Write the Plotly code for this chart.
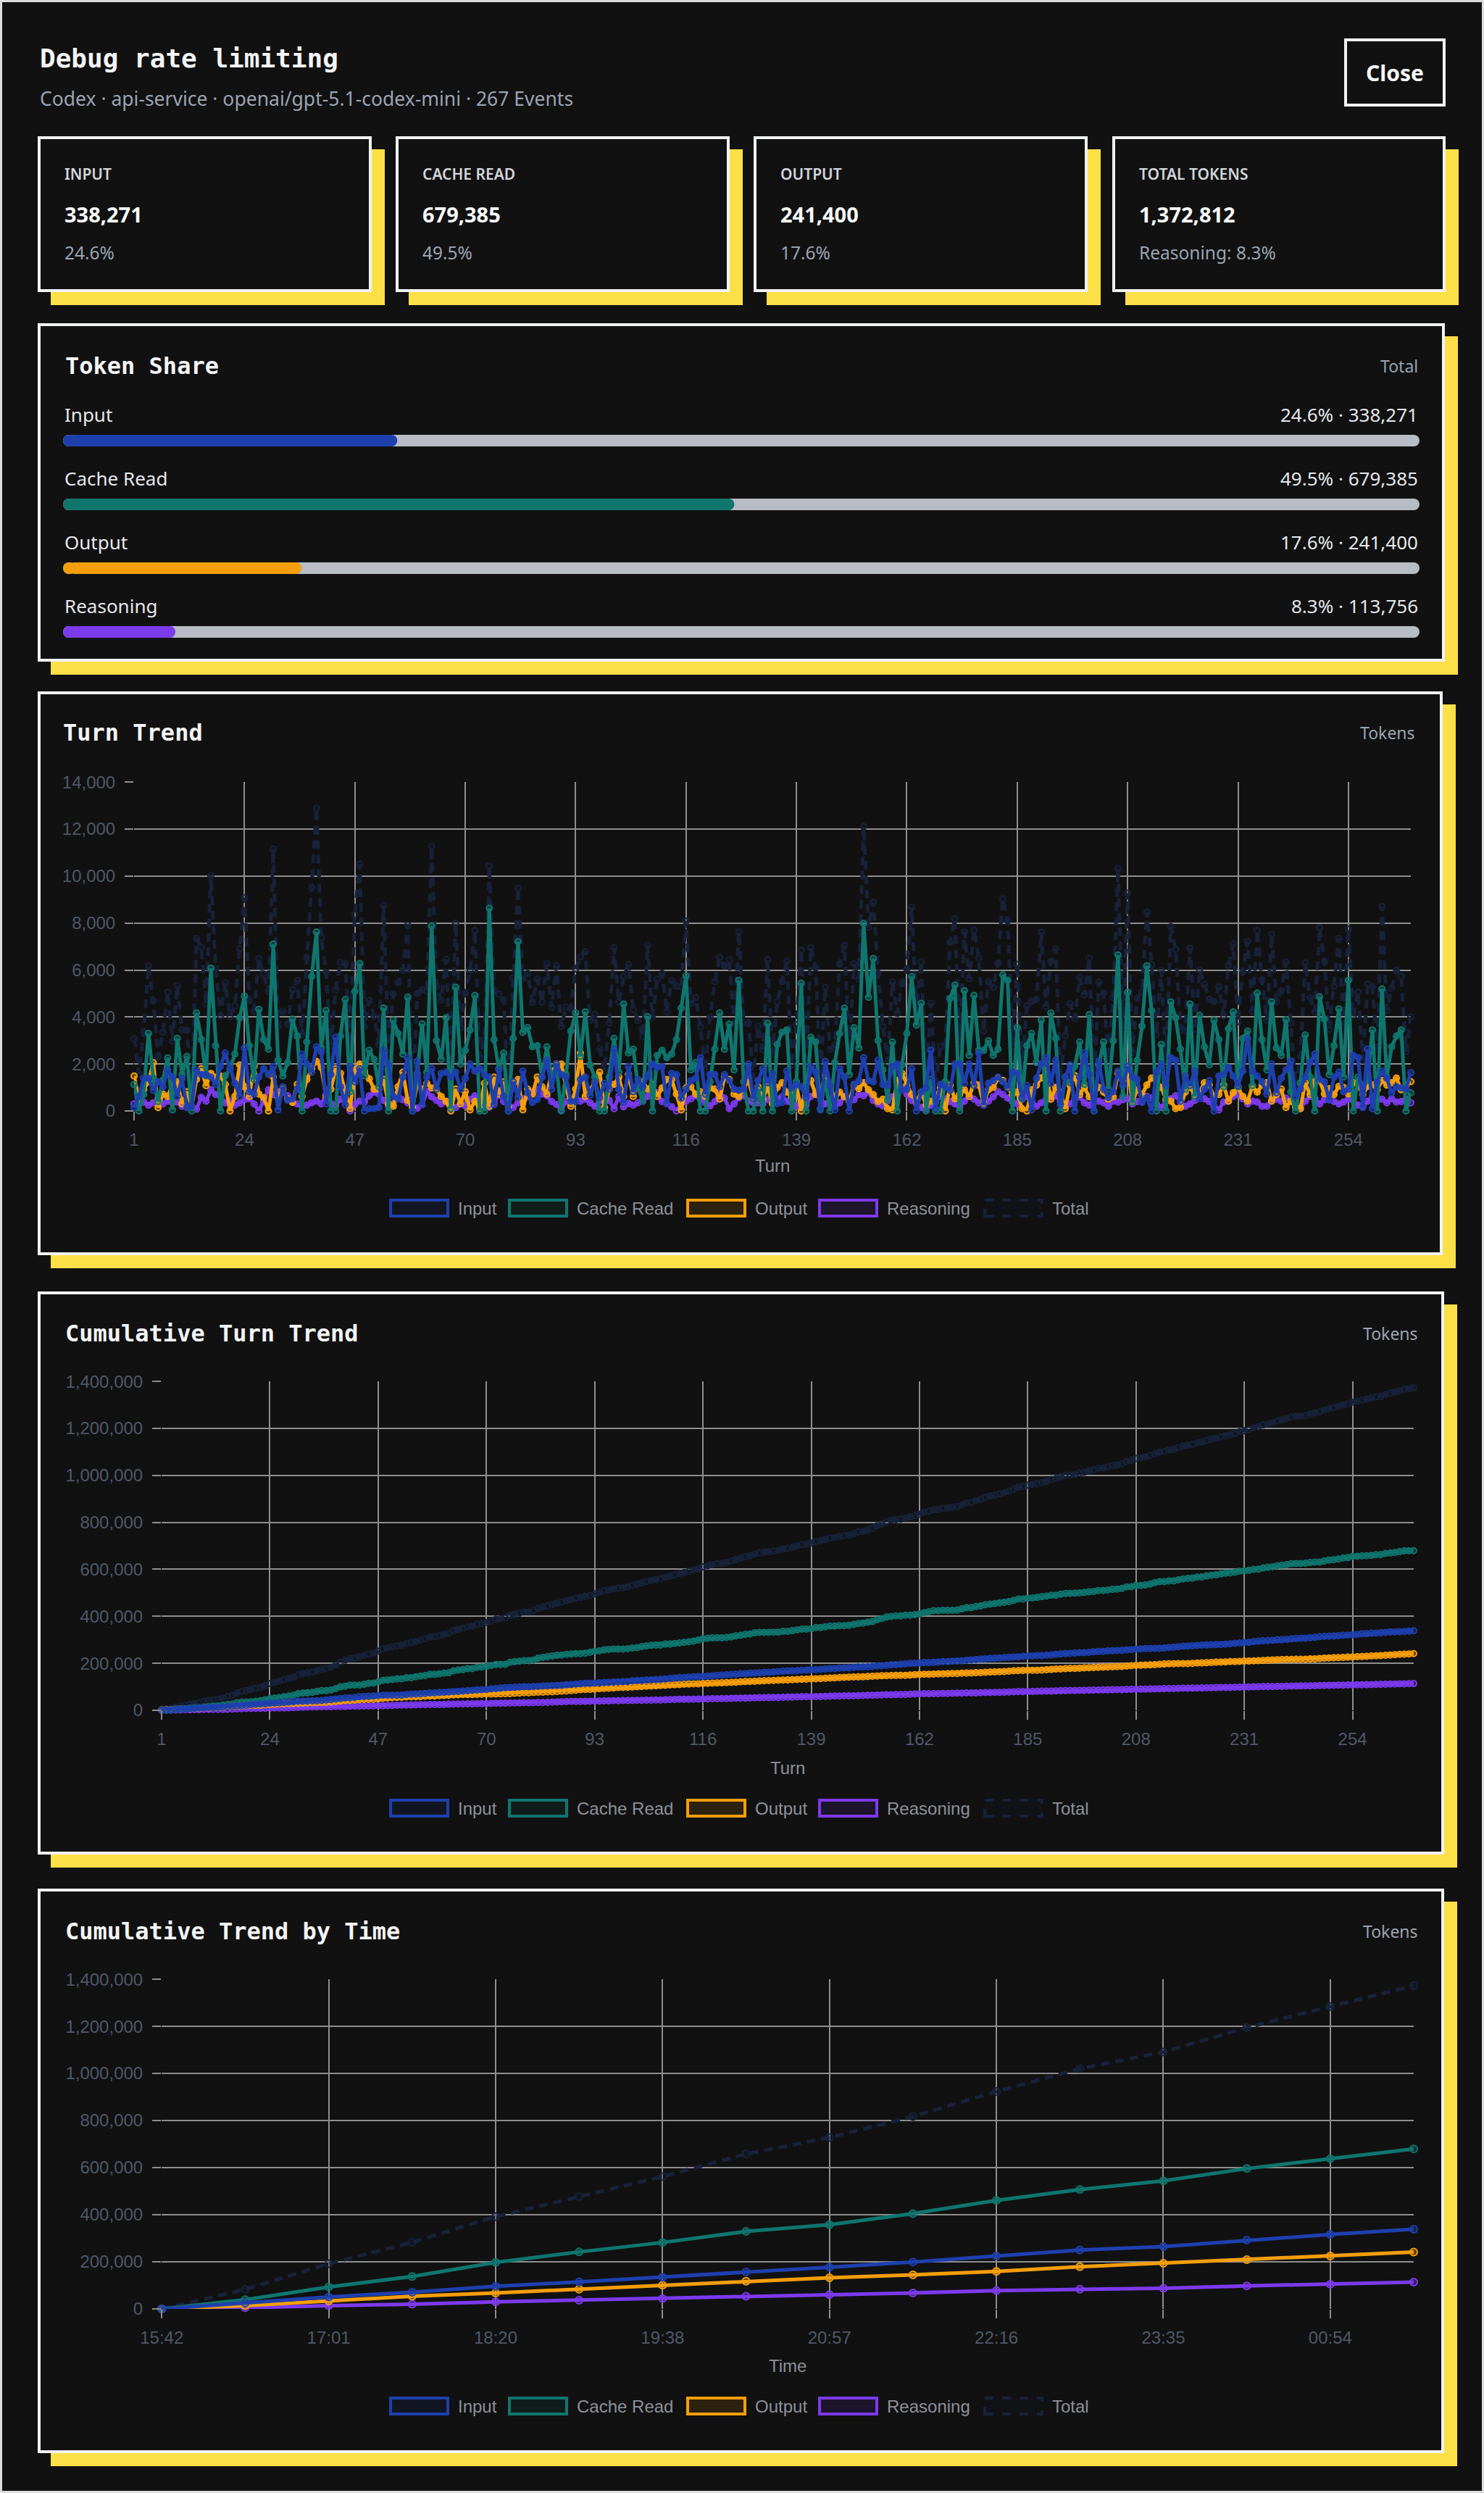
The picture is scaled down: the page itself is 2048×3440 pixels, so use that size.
import numpy as np
import plotly.graph_objects as go

W, H = 2048, 3440
def px(x): return x / W
def py(y): return 1 - y / H

# ---------------- data ----------------
series_names = ["Input", "Cache Read", "Output", "Reasoning"]
token_totals = [338271, 679385, 241400, 113756]
kpi_labels = ["INPUT", "CACHE READ", "OUTPUT", "TOTAL TOKENS"]

turn_input = [
    150, 620, 1390, 1390, 880, 1240, 1030, 1750, 1440, 620,
    1390, 150, 200, 1750, 1550, 1550, 1440, 1130, 1900, 2470,
    1800, 1180, 620, 2680, 820, 720, 1440, 1800, 1550, 1900,
    50, 1030, 460, 515, 930, 2420, 2000, 1650, 2730, 2520,
    310, 1550, 3140, 1030, 260, 1900, 1240, 1800, 0, 100,
    100, 150, 2580, 1960, 620, 515, 1440, 2270, 0, 2110,
    260, 1440, 1800, 930, 1600, 1650, 1440, 1650, 930, 1390,
    2000, 1700, 1800, 1550, 1440, 260, 1750, 620, 0, 1240,
    570, 1700, 770, 360, 491, 1440, 2160, 930, 2000, 1550,
    1440, 410, 400, 1340, 1440, 670, 1240, 570, 1180, 930,
    2630, 930, 360, 1900, 820, 1340, 1030, 1490, 2000, 1850,
    1900, 310, 1600, 1550, 550, 930, 1290, 1390, 2270, 720,
    1550, 1550, 1030, 1550, 1290, 930, 880, 930, 2000, 515,
    1290, 1800, 1200, 1600, 310, 360, 1700, 980, 1130, 1030,
    570, 1900, 1650, 50, 2110, 1080, 50, 1800, 1440, 0,
    1130, 1290, 2270, 1290, 1240, 2160, 1130, 1080, 1900, 2000,
    880, 930, 1800, 0, 820, 980, 2580, 100, 1130, 1030,
    880, 2000, 2000, 1180, 2000, 1080, 2470, 260, 1180, 1290,
    1440, 1240, 980, 1650, 1600, 570, 1080, 50, 1390, 2000,
    2270, 1180, 2160, 260, 1440, 1960, 0, 1440, 2470, 1550,
    0, 2110, 930, 570, 820, 1700, 1080, 1900, 1440, 1340,
    360, 570, 0, 1650, 2000, 1080, 2270, 2160, 410, 1490,
    1080, 1700, 515, 930, 1290, 0, 1490, 1550, 1850, 1490,
    1080, 1700, 3090, 1700, 1490, 1240, 720, 2000, 770, 1390,
    1750, 2110, 620, 930, 1440, 2060, 2420, 1340, 1240, 460,
    1440, 1650, 820, 930, 2370, 2270, 150, 2630, 100, 1240,
    1700, 1390, 770, 1030, 980, 930, 1630,
]
turn_cache = [
    1130, 0, 700, 3300, 1400, 400, 1300, 2260, 50, 3090,
    1550, 2320, 0, 4170, 3040, 1500, 6080, 2780, 0, 1500,
    1800, 2420, 3970, 4890, 2780, 1340, 4330, 3040, 2630, 7100,
    2160, 1490, 2060, 3910, 3190, 0, 2940, 5720, 7620, 2700,
    4270, 0, 0, 3190, 4740, 820, 5100, 6280, 1500, 2580,
    2200, 1030, 4380, 0, 3860, 3300, 2420, 4840, 0, 1585,
    3700, 1650, 7880, 2990, 2200, 3970, 100, 5270, 2000, 2580,
    3450, 4920, 0, 0, 8630, 3040, 1800, 2470, 0, 3090,
    7210, 3350, 3550, 2730, 2780, 1440, 2730, 1440, 1900, 0,
    1550, 3400, 4170, 2320, 4220, 1960, 1440, 0, 0, 1440,
    3090, 1650, 4550, 2470, 2630, 1030, 410, 4020, 0, 2370,
    2580, 2270, 2420, 3040, 4380, 5750, 1750, 2060, 0, 0,
    1240, 2630, 4170, 2630, 3700, 1750, 5560, 1240, 0, 0,
    930, 0, 3730, 0, 2830, 3350, 3450, 0, 1240, 5440,
    0, 3140, 2940, 100, 1340, 0, 2060, 3300, 4380, 1550,
    3550, 2680, 7980, 4840, 6490, 3000, 1750, 460, 2940, 0,
    1960, 3300, 5720, 3660, 4580, 0, 1340, 0, 0, 1240,
    4790, 5360, 0, 5120, 2370, 4920, 2580, 2580, 2990, 2370,
    2630, 5790, 5560, 0, 3550, 520, 2780, 3300, 2060, 3860,
    0, 4170, 3090, 0, 1440, 1200, 1900, 2940, 1130, 4100,
    0, 1960, 2940, 930, 2990, 6640, 620, 5050, 360, 2160,
    3610, 6180, 4270, 0, 2830, 0, 4640, 3970, 2630, 930,
    4550, 620, 4070, 2730, 1960, 3860, 3040, 1030, 3500, 4220,
    1030, 3090, 3400, 1080, 5020, 3040, 1750, 4640, 2680, 2370,
    3890, 820, 0, 1200, 3240, 1440, 0, 4860, 3910, 1550,
    2780, 4350, 1440, 5560, 0, 1440, 1100, 1300, 3450, 0,
    5200, 1440, 2730, 3190, 3450, 0, 770,
]
turn_output = [
    1490, 510, 920, 1240, 2060, 150, 720, 620, 1130, 1240,
    310, 820, 200, 1340, 1800, 1080, 1600, 1440, 1490, 1130,
    0, 620, 1960, 1030, 620, 1900, 720, 570, 0, 1440,
    570, 930, 520, 360, 1130, 620, 1340, 1800, 2110, 1850,
    620, 930, 1800, 1600, 820, 100, 1750, 2000, 1700, 1370,
    930, 930, 1340, 310, 200, 1030, 1650, 460, 150, 1180,
    930, 1180, 980, 930, 620, 410, 0, 930, 310, 820,
    50, 410, 100, 1180, 200, 1440, 720, 1240, 200, 1180,
    1340, 50, 930, 720, 1440, 1030, 720, 1650, 2000, 2000,
    1030, 200, 930, 2470, 620, 880, 1240, 1650, 150, 930,
    1130, 1440, 620, 1550, 620, 1130, 1240, 930, 1130, 620,
    980, 1340, 1340, 720, 50, 980, 1030, 720, 820, 620,
    980, 930, 510, 1440, 1340, 720, 620, 930, 1340, 510,
    1030, 510, 1030, 310, 1000, 1200, 800, 620, 1100, 0,
    1100, 1300, 700, 800, 1500, 1100, 500, 800, 600, 420,
    1100, 950, 1200, 900, 700, 400, 500, 100, 50, 1300,
    1600, 1100, 700, 400, 800, 250, 420, 600, 1000, 0,
    1100, 520, 700, 900, 620, 1200, 1100, 320, 900, 1000,
    1400, 1300, 1000, 700, 800, 100, 0, 900, 1100, 1400,
    1700, 500, 1000, 800, 100, 1100, 1500, 700, 1000, 600,
    700, 1000, 800, 500, 600, 1600, 1300, 1800, 400, 900,
    700, 1100, 1400, 1300, 1000, 500, 420, 100, 150, 800,
    1000, 700, 800, 1200, 1100, 600, 700, 1100, 420, 780,
    1000, 620, 420, 1050, 800, 1100, 1200, 420, 700, 930,
    150, 420, 150, 100, 1200, 700, 1250, 1300, 730, 950,
    700, 1050, 1000, 730, 1200, 1100, 700, 1050, 1120, 900,
    1300, 1100, 1200, 1400, 900, 1100, 1250,
]
turn_reasoning = [
    300, 450, 380, 250, 350, 520, 300, 420, 350, 380,
    200, 150, 146, 80, 580, 420, 900, 700, 650, 350,
    420, 250, 350, 480, 520, 300, 0, 420, 900, 700,
    820, 800, 650, 380, 300, 200, 250, 350, 420, 300,
    700, 320, 220, 500, 450, 0, 280, 420, 380, 650,
    800, 720, 450, 200, 300, 620, 480, 350, 200, 120,
    260, 820, 600, 450, 300, 420, 350, 150, 300, 220,
    500, 650, 380, 300, 160, 350, 700, 400, 260, 150,
    350, 520, 600, 820, 900, 720, 650, 400, 280, 50,
    400, 350, 550, 420, 500, 350, 200, 420, 380, 450,
    100, 620, 180, 320, 250, 350, 480, 620, 850, 780,
    400, 300, 180, 0, 300, 420, 520, 650, 500, 350,
    220, 400, 820, 550, 100, 300, 560, 650, 420, 350,
    350, 300, 480, 520, 500, 600, 420, 350, 200, 380,
    250, 620, 800, 550, 300, 450, 200, 350, 620, 520,
    480, 700, 650, 800, 450, 300, 220, 420, 600, 850,
    980, 720, 450, 300, 150, 80, 250, 380, 620, 520,
    400, 300, 180, 420, 650, 500, 350, 250, 420, 600,
    820, 700, 550, 400, 300, 500, 620, 420, 200, 350,
    480, 520, 650, 400, 220, 300, 540, 600, 350, 250,
    500, 420, 350, 200, 420, 380, 480, 520, 300, 400,
    400, 620, 550, 300, 150, 420, 520, 650, 380, 200,
    300, 450, 620, 520, 400, 200, 50, 380, 420, 620,
    700, 520, 300, 420, 380, 200, 200, 450, 500, 420,
    550, 400, 250, 100, 420, 620, 550, 300, 480, 520,
    400, 300, 380, 520, 450, 250, 200, 420, 620, 480,
    500, 350, 520, 380, 400, 500, 350,
]
turn_tick_vals = [1, 24, 47, 70, 93, 116, 139, 162, 185, 208, 231, 254]
turn_y_ticks = [0, 2000, 4000, 6000, 8000, 10000, 12000, 14000]
cum_y_ticks = [0, 200000, 400000, 600000, 800000, 1000000, 1200000, 1400000]

time_labels = ["15:42", "16:21", "17:01", "17:40", "18:20", "18:59", "19:38", "20:18",
               "20:57", "21:36", "22:16", "22:55", "23:35", "00:14", "00:54", "01:33"]
time_tick_labels = ["15:42", "17:01", "18:20", "19:38", "20:57", "22:16", "23:35", "00:54"]
time_input = [0, 25000, 51000, 71000, 96000, 115000, 135000, 157000, 177000, 199000,
              225000, 250000, 265000, 292000, 316000, 338271]
time_cache = [0, 39000, 93000, 138000, 198000, 242000, 282000, 329000, 358000, 405000,
              461000, 507000, 544000, 596000, 638000, 679385]
time_output = [0, 14000, 34000, 54000, 68000, 84000, 101000, 118000, 132000, 145000,
               159000, 179000, 194000, 209000, 225000, 241400]
time_reasoning = [0, 5000, 14000, 20000, 30000, 37000, 44000, 54000, 61000, 68000,
                  78000, 84000, 88000, 98000, 105000, 113756]

# ---------------- style ----------------
BG = "#111111"
BORDER = "#f1f2f4"
YELLOW = "#fde047"
GRID = "#8e8e8e"
TICK_C = "#4f5868"
LEG_C = "#8d9199"
MUTED = "#9aa4b2"
SANS = "Noto Sans"
MONO = "DejaVu Sans Mono"
CHART = "Liberation Sans"
COLORS = {"Input": "#1e40af", "Cache Read": "#0f766e", "Output": "#f59e0b", "Reasoning": "#7c3aed"}
TOTAL_C = "#18223a"
TRACK = "#b8bcc4"

def rgba(h, a):
    h = h.lstrip("#")
    return "rgba(%d,%d,%d,%.2f)" % (int(h[0:2], 16), int(h[2:4], 16), int(h[4:6], 16), a)

fig = go.Figure()
shapes = []
annotations = []

def text(x, y, s, size, color, family=SANS, anchor="left", weight="normal"):
    annotations.append(dict(x=px(x), y=py(y), xref="paper", yref="paper", text=s, showarrow=False,
                            xanchor=anchor, yanchor="middle",
                            font=dict(size=size, color=color, family=family, weight=weight)))

def panel(x0, y0, x1, y1, shadow=True):
    if shadow:
        shapes.append(dict(type="rect", xref="paper", yref="paper", layer="below",
                           x0=px(x0 + 18), x1=px(x1 + 18), y0=py(y1 + 18), y1=py(y0 + 18),
                           fillcolor=YELLOW, line=dict(width=0)))
    shapes.append(dict(type="rect", xref="paper", yref="paper", layer="below",
                       x0=px(x0 + 2), x1=px(x1 - 2), y0=py(y1 - 2), y1=py(y0 + 2),
                       fillcolor=BG, line=dict(color=BORDER, width=4)))

# page frame
shapes.append(dict(type="rect", xref="paper", yref="paper", layer="below", x0=0, x1=1, y0=0, y1=1,
                   fillcolor=BG, line=dict(color="#dcdcdc", width=6)))

# header
text(53, 80, "Debug rate limiting", 36, "#f3f4f6", MONO, weight="bold")
text(53, 136, "Codex · api-service · openai/gpt-5.1-codex-mini · 267 Events", 26.5, MUTED)
shapes.append(dict(type="rect", xref="paper", yref="paper", layer="below",
                   x0=px(1857), x1=px(1993), y0=py(145), y1=py(55),
                   fillcolor=BG, line=dict(color=BORDER, width=4)))
text(1925, 100, "Close", 30, "#f9fafb", anchor="center", weight="bold")

# KPI cards
grand_total = sum(token_totals)
cards = [(52, 513), (546, 1007), (1040, 1501), (1535, 1995)]
kpi_values = token_totals[:3] + [grand_total]
kpi_subs = ["%.1f%%" % (v / grand_total * 100) for v in token_totals[:3]] + \
           ["Reasoning: %.1f%%" % (token_totals[3] / grand_total * 100)]
for (cx0, cx1), lab, val, sub in zip(cards, kpi_labels, kpi_values, kpi_subs):
    panel(cx0, 188, cx1, 403)
    text(cx0 + 35, 240, lab, 21, "#d1d5db", weight=600)
    text(cx0 + 35, 295, f"{val:,}", 29, "#f9fafb", weight="bold")
    text(cx0 + 35, 348, sub, 24.5, MUTED)

# Token share panel
panel(52, 446, 1994, 913)
text(88, 505, "Token Share", 32, "#f3f4f6", MONO, weight="bold")
text(1959, 505, "Total", 23, MUTED, anchor="right")

rows = list(range(len(series_names)))
pcts = [v / grand_total * 100 for v in token_totals]
cap = 0.9
bw = 16 / 88
fig.add_trace(go.Bar(orientation="h", y=rows, x=[100 - cap / 2] * 4, base=[cap / 2] * 4, width=bw,
                     marker=dict(color=TRACK, cornerradius=8, line=dict(width=0)),
                     xaxis="x", yaxis="y", showlegend=False, hoverinfo="skip"))
fig.add_trace(go.Bar(orientation="h", y=rows, x=[-cap] * 4, base=[cap] * 4, width=bw,
                     marker=dict(color=TRACK, cornerradius=8, line=dict(width=0)),
                     xaxis="x", yaxis="y", showlegend=False, hoverinfo="skip"))
fill_cols = [COLORS[n] for n in series_names]
fig.add_trace(go.Bar(orientation="h", y=rows, x=[p - cap / 2 for p in pcts], base=[cap / 2] * 4, width=bw,
                     marker=dict(color=fill_cols, cornerradius=8, line=dict(width=0)),
                     xaxis="x", yaxis="y", showlegend=False, hoverinfo="skip"))
fig.add_trace(go.Bar(orientation="h", y=rows, x=[-cap] * 4, base=[cap] * 4, width=bw,
                     marker=dict(color=fill_cols, cornerradius=8, line=dict(width=0)),
                     xaxis="x", yaxis="y", showlegend=False, hoverinfo="skip"))
for r, name, v, p in zip(rows, series_names, token_totals, pcts):
    annotations.append(dict(x=0, y=r - 0.41, xref="x", yref="y", text=name, showarrow=False,
                            xanchor="left", yanchor="middle", font=dict(size=26, color="#e5e7eb", family=SANS)))
    annotations.append(dict(x=100, y=r - 0.41, xref="x", yref="y", text="%.1f%% · %s" % (p, f"{v:,}"),
                            showarrow=False, xanchor="right", yanchor="middle",
                            font=dict(size=26, color="#e5e7eb", family=SANS)))

# ---------------- line charts ----------------
def add_chart(xs, ys_list, xa, ya, lw, ms):
    total = np.sum(np.array(ys_list, dtype=float), axis=0)
    fig.add_trace(go.Scatter(x=xs, y=total, mode="lines+markers",
                             line=dict(color=TOTAL_C, width=lw, dash="12px,8px"),
                             marker=dict(size=ms, color=rgba(TOTAL_C, 0.25), line=dict(color=TOTAL_C, width=2)),
                             xaxis=xa, yaxis=ya, showlegend=False, hoverinfo="skip", cliponaxis=False))
    for name, ys in reversed(list(zip(series_names, ys_list))):
        c = COLORS[name]
        fig.add_trace(go.Scatter(x=xs, y=ys, mode="lines+markers",
                                 line=dict(color=c, width=lw),
                                 marker=dict(size=ms, color=rgba(c, 0.35), line=dict(color=c, width=2)),
                                 xaxis=xa, yaxis=ya, showlegend=False, hoverinfo="skip", cliponaxis=False))

def legend(cy):
    starts = [537, 701, 947, 1129, 1357]
    for bx, name in zip(starts, series_names + ["Total"]):
        c = COLORS.get(name, TOTAL_C)
        shapes.append(dict(type="rect", xref="paper", yref="paper",
                           x0=px(bx + 2), x1=px(bx + 81), y0=py(cy + 11), y1=py(cy - 11),
                           fillcolor=rgba(c, 0.12),
                           line=dict(color=c, width=4, dash="dash" if name == "Total" else "solid")))
        text(bx + 93, cy, name, 24, LEG_C, CHART)

turns = list(range(1, len(turn_input) + 1))
turn_series = [turn_input, turn_cache, turn_output, turn_reasoning]
cum_series = [np.cumsum(s) for s in turn_series]
time_series = [time_input, time_cache, time_output, time_reasoning]

# Turn Trend
panel(52, 954, 1991, 1732)
text(85, 1011, "Turn Trend", 32, "#f3f4f6", MONO, weight="bold")
text(1955, 1011, "Tokens", 23, MUTED, anchor="right")
add_chart(turns, turn_series, "x2", "y2", 5, 8)
text(1066, 1609, "Turn", 24, LEG_C, CHART, anchor="center")
legend(1667)

# Cumulative Turn Trend
panel(52, 1782, 1993, 2559)
text(88, 1840, "Cumulative Turn Trend", 32, "#f3f4f6", MONO, weight="bold")
text(1959, 1840, "Tokens", 23, MUTED, anchor="right")
add_chart(turns, cum_series, "x3", "y3", 5, 8)
text(1087, 2439, "Turn", 24, LEG_C, CHART, anchor="center")
legend(2495)

# Cumulative Trend by Time
panel(52, 2606, 1993, 3385)
text(88, 2665, "Cumulative Trend by Time", 32, "#f3f4f6", MONO, weight="bold")
text(1959, 2665, "Tokens", 23, MUTED, anchor="right")
add_chart(time_labels, time_series, "x4", "y4", 5, 10)
text(1087, 3264, "Time", 24, LEG_C, CHART, anchor="center")
legend(3320)

tickfont = dict(family=CHART, size=24, color=TICK_C)
def xax(d0, d1, anchor, **kw):
    base = dict(domain=[px(d0), px(d1)], anchor=anchor, showgrid=True, gridcolor=GRID, gridwidth=2,
                ticks="outside", ticklen=12, tickwidth=2, tickcolor=GRID, tickfont=tickfont,
                zeroline=False, showline=False, ticklabelstandoff=6, fixedrange=True, automargin=False)
    base.update(kw)
    return base

def yax(top, bottom, anchor, **kw):
    base = dict(domain=[py(bottom), py(top)], anchor=anchor, showgrid=True, gridcolor=GRID, gridwidth=2,
                ticks="outside", ticklen=12, tickwidth=2, tickcolor=GRID, tickfont=tickfont,
                zeroline=False, showline=False, tickformat=",d", ticklabelstandoff=8, fixedrange=True,
                automargin=False)
    base.update(kw)
    return base

fig.update_layout(
    width=W, height=H, autosize=False,
    margin=dict(l=0, r=0, t=0, b=0, pad=0, autoexpand=False),
    paper_bgcolor=BG, plot_bgcolor="rgba(0,0,0,0)",
    barmode="overlay",
    showlegend=False,
    xaxis=dict(domain=[px(87), px(1959)], range=[0, 100], visible=False, fixedrange=True, anchor="y",
               automargin=False),
    yaxis=dict(domain=[py(916), py(564)], range=[3.5, -0.5], visible=False, fixedrange=True, anchor="x",
               automargin=False),
    xaxis2=xax(185, 1947, "y2", range=[0.995, len(turn_input)], tickvals=turn_tick_vals),
    yaxis2=yax(1079, 1533, "x2", range=[0, 14005], tickvals=turn_y_ticks),
    xaxis3=xax(223, 1951, "y3", range=[0.995, len(turn_input)], tickvals=turn_tick_vals),
    yaxis3=yax(1906, 2360, "x3", range=[0, 1400400], tickvals=cum_y_ticks),
    xaxis4=xax(223, 1951, "y4", type="category", range=[-0.002, len(time_labels) - 1],
               tickvals=time_tick_labels, categoryorder="array", categoryarray=time_labels),
    yaxis4=yax(2731, 3186, "x4", range=[0, 1400400], tickvals=cum_y_ticks),
    shapes=shapes,
    annotations=annotations,
)

fig.write_html("out.html", config={"displayModeBar": False},
               post_script="document.body.style.margin='0';document.body.style.overflow='hidden';")
